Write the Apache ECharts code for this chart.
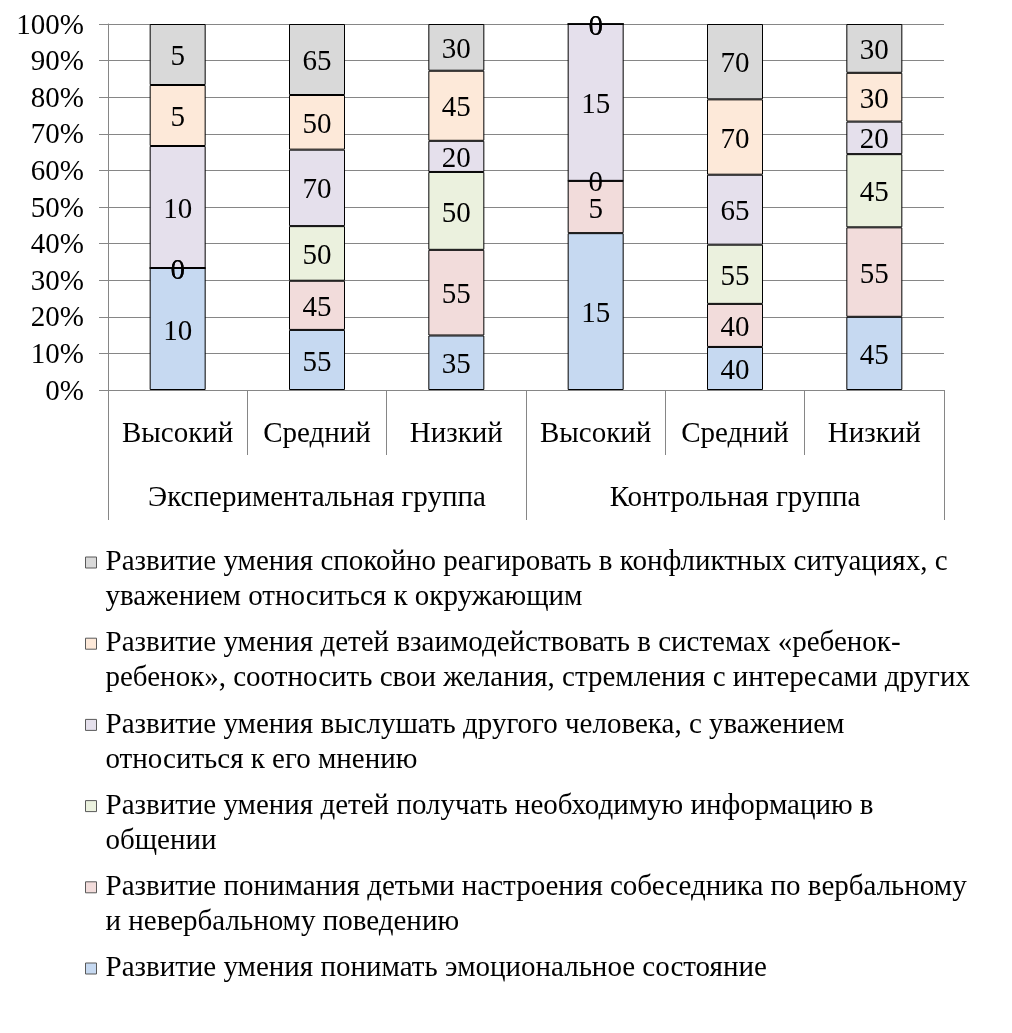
<!DOCTYPE html>
<html>
<head>
<meta charset="utf-8">
<script src="https://cdn.jsdelivr.net/npm/echarts@6/dist/echarts.min.js"></script>
<style>
html, body { margin: 0; padding: 0; background: #fff; }
#chart { width: 1012px; height: 1033px; }
</style>
</head>
<body>
<div id="chart"></div>
<script>
var dom = document.getElementById("chart");
var myChart = echarts.init(dom);

// категории (уровни) и группы
var levels = ['Высокий', 'Средний', 'Низкий', 'Высокий', 'Средний', 'Низкий'];
var groups = ['Экспериментальная группа', 'Контрольная группа'];
var yTicks = [0, 10, 20, 30, 40, 50, 60, 70, 80, 90, 100];

// названия рядов (снизу вверх)
var names = [
    'Развитие умения понимать эмоциональное состояние',
    'Развитие понимания детьми настроения собеседника по вербальному и невербальному поведению',
    'Развитие умения детей получать необходимую информацию в общении',
    'Развитие умения выслушать другого человека, с уважением относиться к его мнению',
    'Развитие умения детей взаимодействовать в системах «ребенок-ребенок», соотносить свои желания, стремления с интересами других',
    'Развитие умения спокойно реагировать в конфликтных ситуациях, с уважением относиться к окружающим'
];
// как подписи переносятся в легенде
var legendText = [
    'Развитие умения понимать эмоциональное состояние',
    'Развитие понимания детьми настроения собеседника по вербальному\nи невербальному поведению',
    'Развитие умения детей получать необходимую информацию в\nобщении',
    'Развитие умения выслушать другого человека, с уважением\nотноситься к его мнению',
    'Развитие умения детей взаимодействовать в системах «ребенок-\nребенок», соотносить свои желания, стремления с интересами других',
    'Развитие умения спокойно реагировать в конфликтных ситуациях, с\nуважением относиться к окружающим'
];

// значения
var emotion   = [10, 55, 35, 15, 40, 45];
var mood      = [0, 45, 55, 5, 40, 55];
var info      = [0, 50, 50, 0, 55, 45];
var listen    = [10, 70, 20, 15, 65, 20];
var interact  = [5, 50, 45, 0, 70, 30];
var conflict  = [5, 65, 30, 0, 70, 30];

var colors = ['#c6d9f1', '#f2dcdb', '#ebf1de', '#e5e0ec', '#fde9d9', '#d9d9d9'];
var raw = [emotion, mood, info, listen, interact, conflict];

var font = 'Liberation Serif';
var fs = 29;

// сумма по каждому столбцу -> 100%
var totals = levels.map(function (l, i) {
    var s = 0;
    raw.forEach(function (r) { s += r[i]; });
    return s;
});

var series = raw.map(function (arr, k) {
    return {
        name: names[k],
        type: 'bar',
        stack: 'all',
        barWidth: 56,
        data: arr.map(function (v, i) { return v / totals[i] * 100; }),
        itemStyle: {
            color: colors[k],
            borderColor: '#000',
            borderWidth: 1
        },
        label: {
            show: true,
            position: 'inside',
            offset: [0, 3],
            color: '#000',
            fontFamily: font,
            fontSize: fs,
            formatter: function (p) { return arr[p.dataIndex]; }
        }
    };
});

// легенда сверху вниз: обратный порядок
var legendData = [];
for (var k = names.length - 1; k >= 0; k--) {
    legendData.push(names[k]);
}

var option = {
    animation: false,
    backgroundColor: '#fff',
    grid: { left: 108, right: 68, top: 24, bottom: 643, containLabel: false },
    legend: {
        orient: 'vertical',
        left: 85,
        top: 510,
        padding: 0,
        itemWidth: 11,
        itemHeight: 11,
        itemGap: -23.8,
        icon: 'rect',
        data: legendData,
        selectedMode: false,
        itemStyle: { borderColor: '#595959', borderWidth: 1 },
        // пустая первая строка, чтобы значок стоял у первой строки текста
        formatter: function (n) {
            var t = legendText[names.indexOf(n)];
            return t.indexOf('\n') >= 0 ? '\n' + t : '\n' + t + '\n';
        },
        textStyle: { fontFamily: font, fontSize: fs, color: '#000', lineHeight: 35, padding: [0, 0, 0, 4] }
    },
    xAxis: [{
        type: 'category',
        data: levels,
        axisLine: { lineStyle: { color: '#868686' } },
        axisTick: { show: true, interval: 0, length: 65, lineStyle: { color: '#868686' } },
        axisLabel: { interval: 0, margin: 30, color: '#000', fontFamily: font, fontSize: fs }
    }, {
        type: 'category',
        data: groups,
        position: 'bottom',
        offset: 65,
        axisLine: { show: false },
        axisTick: { show: true, interval: 0, length: 65, lineStyle: { color: '#868686' } },
        axisLabel: { interval: 0, margin: 29, color: '#000', fontFamily: font, fontSize: fs }
    }],
    yAxis: {
        type: 'value',
        min: yTicks[0],
        max: yTicks[yTicks.length - 1],
        interval: 10,
        axisLine: { show: true, lineStyle: { color: '#868686' } },
        axisTick: { show: true, length: 9, lineStyle: { color: '#868686' } },
        axisLabel: {
            margin: 24, color: '#000', fontFamily: font, fontSize: fs, formatter: '{value}%',
            verticalAlign: 'top', padding: [-12.5, 0, 0, 0]
        },
        splitLine: { show: true, lineStyle: { color: '#868686' } }
    },
    series: series
};

myChart.setOption(option);
window.onresize = function () {
    myChart.resize();
};
</script>
</body>
</html>
